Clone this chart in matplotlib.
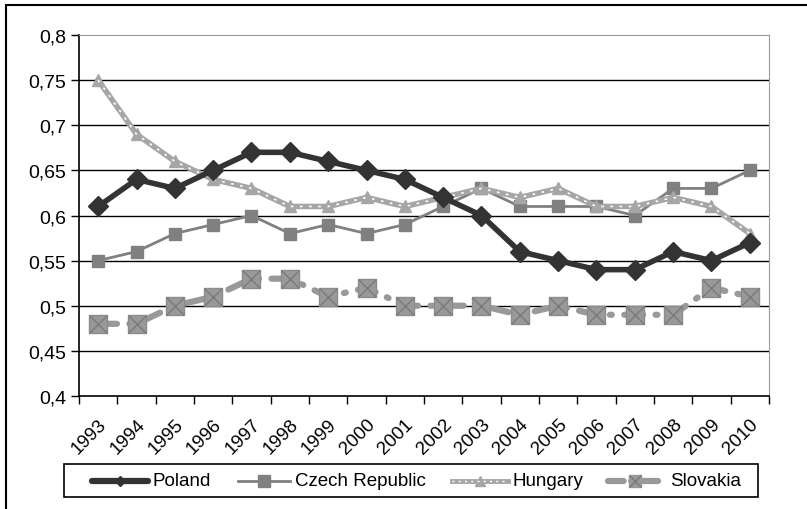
import numpy as np
import matplotlib.pyplot as plt
from matplotlib.patches import Rectangle
from matplotlib.lines import Line2D

years = [str(y) for y in range(1993, 2011)]
poland = [0.61, 0.64, 0.63, 0.65, 0.67, 0.67, 0.66, 0.65, 0.64, 0.62, 0.60, 0.56, 0.55, 0.54, 0.54, 0.56, 0.55, 0.57]
czech = [0.55, 0.56, 0.58, 0.59, 0.60, 0.58, 0.59, 0.58, 0.59, 0.61, 0.63, 0.61, 0.61, 0.61, 0.60, 0.63, 0.63, 0.65]
hungary = [0.75, 0.69, 0.66, 0.64, 0.63, 0.61, 0.61, 0.62, 0.61, 0.62, 0.63, 0.62, 0.63, 0.61, 0.61, 0.62, 0.61, 0.58]
slovakia = [0.48, 0.48, 0.50, 0.51, 0.53, 0.53, 0.51, 0.52, 0.50, 0.50, 0.50, 0.49, 0.50, 0.49, 0.49, 0.49, 0.52, 0.51]
yticks = [0.4, 0.45, 0.5, 0.55, 0.6, 0.65, 0.7, 0.75, 0.8]
names = ['Poland', 'Czech Republic', 'Hungary', 'Slovakia']

plt.rcParams['font.family'] = ['Liberation Sans', 'DejaVu Sans']

W, H = 807, 510
fig = plt.figure(figsize=(W / 100, H / 100), dpi=100)
ax = fig.add_axes([79 / W, 1 - 397 / H, (769 - 79) / W, (397 - 36) / H])


def fx(px):
    return px / W


def fy(py):
    return 1 - py / H


# outer frame (only left and top visible)
fig.patches.append(Rectangle((fx(6), -0.1), 1.2, fy(6) + 0.1, transform=fig.transFigure,
                             fill=False, edgecolor='black', linewidth=1.5))

x = np.arange(len(years))
slov_ls = (0, (3, 2, 0.3, 2))

ax.plot(x, czech, color='#808080', linewidth=2, marker='s', markersize=8.5, zorder=3)
ax.plot(x, hungary, color='#a6a6a6', linewidth=4, marker='^', markersize=8.5, zorder=4)
ax.plot(x, hungary, color='white', linewidth=1.2, linestyle=(0, (1.5, 4)), zorder=4)
ax.plot(x, slovakia, color='#999999', linewidth=4.5, linestyle=slov_ls,
        dash_capstyle='round', marker='s', markersize=13, markerfacecolor='#999999',
        markeredgecolor='#8c8c8c', zorder=3)
ax.plot(x, slovakia, linestyle='none', marker='x', markersize=12.5, color='#7a7a7a',
        markeredgewidth=1, zorder=3)
ax.plot(x, poland, color='#333333', linewidth=4, marker='D', markersize=10.5, zorder=5)

ax.set_xlim(-0.5, len(years) - 0.5)
ax.set_ylim(0.4, 0.8)
ax.set_yticks(yticks)
ax.set_yticklabels([f"{v:g}".replace('.', ',') for v in yticks], fontsize=14)
ax.set_xticks(x)
ax.set_xticklabels(years, rotation=45, ha='right', rotation_mode='anchor', fontsize=13.5)
ax.set_xticks(np.arange(-0.5, len(years)), minor=True)
ax.tick_params(axis='x', which='major', length=0, pad=14)
ax.tick_params(axis='x', which='minor', length=6, width=1, direction='out')
ax.tick_params(axis='y', length=6, width=1, direction='out', pad=3)

for v in yticks[1:-1]:
    ax.axhline(v, color='black', linewidth=1, zorder=1)
ax.spines['top'].set_color('#999999')
ax.spines['right'].set_color('#999999')
ax.spines['left'].set_linewidth(1.2)
ax.spines['bottom'].set_linewidth(1.2)

# legend, drawn by hand to keep the uneven Excel spacing
fig.patches.append(Rectangle((fx(64), fy(498)), fx(758) - fx(64), fy(465) - fy(498),
                             transform=fig.transFigure, fill=False, edgecolor='black',
                             linewidth=1.2))
ly = fy(481.5)
handles = [
    (92, 148, 152, dict(color='#333333', linewidth=4.5, solid_capstyle='round', marker='D', markersize=5)),
    (238, 290, 295, dict(color='#808080', linewidth=2, marker='s', markersize=8)),
    (452, 508, 512, dict(color='#a6a6a6', linewidth=3.5, marker='^', markersize=7)),
    (608, 662, 670, dict(color='#999999', linewidth=4.5, linestyle=(0, (2.5, 1.2, 0.3, 1.5)),
                         dash_capstyle='round', marker='s', markersize=9)),
]
for (x0, x1, tx, style), name in zip(handles, names):
    fig.add_artist(Line2D([fx(x0), fx((x0 + x1) / 2), fx(x1)], [ly, ly, ly],
                          transform=fig.transFigure, markevery=[1], **style))
    fig.text(fx(tx), ly, name, fontsize=13.5, va='center', ha='left')
fig.add_artist(Line2D([fx(452), fx(508)], [ly, ly], transform=fig.transFigure,
                      color='white', linewidth=1, linestyle=(0, (1.5, 3))))
fig.add_artist(Line2D([fx(635)], [ly], transform=fig.transFigure, linestyle='none',
                      marker='x', markersize=8, color='#7a7a7a', markeredgewidth=1))

fig.savefig('out.png', dpi=100)
